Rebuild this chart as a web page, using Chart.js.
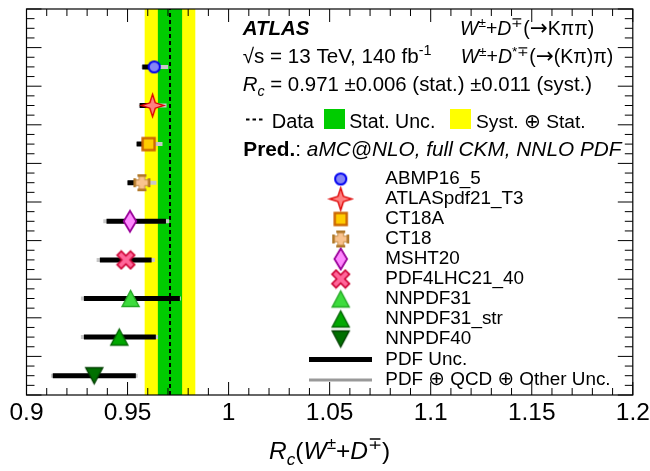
<!DOCTYPE html>
<html><head><meta charset="utf-8">
<script src="https://cdn.jsdelivr.net/npm/chart.js@4/dist/chart.umd.min.js"></script>
<style>html,body{margin:0;padding:0;background:#fff}canvas{display:block}</style>
</head><body>
<canvas id="c" width="650" height="471"></canvas>
<script>
// ---- data ----
const pdfSets = ['ABMP16_5', 'ATLASpdf21_T3', 'CT18A', 'CT18', 'MSHT20', 'PDF4LHC21_40', 'NNPDF31', 'NNPDF31_str', 'NNPDF40'];
const central = [0.9632, 0.9624, 0.9604, 0.9571, 0.9512, 0.9492, 0.9515, 0.9459, 0.9335];
const pdfLo   = [0.9573, 0.9560, 0.9545, 0.9500, 0.9396, 0.9363, 0.9284, 0.9284, 0.9130];
const pdfHi   = [0.9625, 0.9610, 0.9592, 0.9560, 0.9690, 0.9619, 0.9759, 0.9640, 0.9541];
const totLo   = [0.9569, 0.9556, 0.9543, 0.9497, 0.9380, 0.9347, 0.9269, 0.9269, 0.9121];
const totHi   = [0.9701, 0.9693, 0.9673, 0.9643, 0.9706, 0.9635, 0.9764, 0.9651, 0.9550];
const rowPos  = [8.5, 7.5, 6.5, 5.5, 4.5, 3.5, 2.5, 1.5, 0.5];
const dataRc = 0.971, statUnc = 0.006, systUnc = 0.011;
const xTickValues = [0.9, 0.95, 1.0, 1.05, 1.1, 1.15, 1.2];
const xTickLabels = ['0.9', '0.95', '1', '1.05', '1.1', '1.15', '1.2'];

const FAM = "'Liberation Sans', Arial, Helvetica, sans-serif";
const SYM = "'DejaVu Sans', sans-serif";

// ---- marker images ----
function mk(w, h, draw) {
  const c = document.createElement('canvas'); c.width = w; c.height = h;
  const g = c.getContext('2d'); g.translate(w / 2, h / 2); draw(g); return c;
}
function poly(g, pts) { g.beginPath(); pts.forEach((p, i) => i ? g.lineTo(p[0], p[1]) : g.moveTo(p[0], p[1])); g.closePath(); }
function plusPath(g, a, L) {
  poly(g, [[-a,-L],[a,-L],[a,-a],[L,-a],[L,a],[a,a],[a,L],[-a,L],[-a,a],[-L,a],[-L,-a],[-a,-a]]);
}
const markers = [
  mk(17, 17, g => { g.beginPath(); g.arc(0, 0, 5.6, 0, Math.PI * 2); g.fillStyle = '#8585f5'; g.fill(); g.lineWidth = 2; g.strokeStyle = '#0000f0'; g.stroke(); }),
  mk(27, 27, g => { const R = 11.2, r = 2.7; poly(g, [[0,-R],[r,-r],[R,0],[r,r],[0,R],[-r,r],[-R,0],[-r,-r]]); g.fillStyle = '#ff8080'; g.fill(); g.lineWidth = 1.4; g.strokeStyle = '#dd0000'; g.stroke(); }),
  mk(17, 17, g => { g.fillStyle = '#ffcc00'; g.fillRect(-6, -6, 12, 12); g.lineWidth = 2.4; g.strokeStyle = '#cc6600'; g.strokeRect(-6, -6, 12, 12); }),
  mk(21, 21, g => { plusPath(g, 2.8, 7.5); g.fillStyle = '#f9c38f'; g.fill(); g.lineWidth = 1; g.strokeStyle = '#c8904a'; g.stroke();
    g.fillStyle = '#b07828'; g.fillRect(-4.5, -8.5, 9, 2.6); g.fillRect(-4.5, 5.9, 9, 2.6); g.fillRect(-8.5, -4.5, 2.6, 9); g.fillRect(5.9, -4.5, 2.6, 9); }),
  mk(18, 26, g => { poly(g, [[0,-10.5],[6.3,0],[0,10.5],[-6.3,0]]); g.fillStyle = '#ff88ff'; g.fill(); g.lineWidth = 1.8; g.strokeStyle = '#990099'; g.stroke(); }),
  mk(21, 21, g => { g.rotate(Math.PI / 4); plusPath(g, 2.9, 9.5); g.fillStyle = '#ff6699'; g.fill(); g.lineWidth = 1.6; g.strokeStyle = '#cc0033'; g.stroke(); }),
  mk(21, 21, g => { poly(g, [[0,-8],[8.5,8],[-8.5,8]]); g.fillStyle = '#3ddc3d'; g.fill(); g.lineWidth = 1.4; g.strokeStyle = '#24a824'; g.stroke(); }),
  mk(21, 21, g => { poly(g, [[0,-8],[8.5,8],[-8.5,8]]); g.fillStyle = '#00a800'; g.fill(); g.lineWidth = 1.4; g.strokeStyle = '#006400'; g.stroke(); }),
  mk(21, 21, g => { poly(g, [[0,8],[8.5,-8],[-8.5,-8]]); g.fillStyle = '#007000'; g.fill(); g.lineWidth = 1.4; g.strokeStyle = '#004000'; g.stroke(); }),
];

// ---- datasets ----
const datasets = [];
datasets.push({ data: [{ x: dataRc, y: 0 }, { x: dataRc, y: 10 }], showLine: true, borderColor: '#000', borderWidth: 2, borderDash: [4, 3], pointRadius: 0, order: 5 });
pdfSets.forEach((name, i) => {
  datasets.push({ label: name + ' tot', data: [{ x: totLo[i], y: rowPos[i] }, { x: totHi[i], y: rowPos[i] }], showLine: true, borderColor: '#c8c8c8', borderWidth: 4, borderCapStyle: 'butt', pointRadius: 0, order: 4 });
  datasets.push({ label: name + ' pdf', data: [{ x: pdfLo[i], y: rowPos[i] }, { x: pdfHi[i], y: rowPos[i] }], showLine: true, borderColor: '#000', borderWidth: 5, borderCapStyle: 'butt', pointRadius: 0, order: 3 });
  datasets.push({ label: name, data: [{ x: central[i], y: rowPos[i] }], showLine: false, pointStyle: markers[i], pointRadius: 8, order: 1 });
});

function rich(ctx, x, y, segs, size, align) {
  const parts = segs.map(([t, st = '', pos = '', fam = FAM, scale = 1]) => {
    const s = (pos ? size * 0.7 : size) * scale;
    const font = (st.includes('i') ? 'italic ' : '') + (st.includes('b') ? 'bold ' : '') + s + 'px ' + fam;
    ctx.font = font;
    return { t, font, w: ctx.measureText(t).width, dy: pos === 'sup' ? -size * 0.4 : pos === 'sub' ? size * 0.25 : 0 };
  });
  const total = parts.reduce((a, p) => a + p.w, 0);
  let cx = align === 'right' ? x - total : align === 'center' ? x - total / 2 : x;
  ctx.textAlign = 'left'; ctx.textBaseline = 'alphabetic'; ctx.fillStyle = '#000';
  parts.forEach(p => { ctx.font = p.font; ctx.fillText(p.t, cx, y + p.dy); cx += p.w; });
}
const ARROW = ['→', '', '', SYM, 1.1];
const OPLUS = ['⊕', '', '', SYM, 1.05];

const decor = {
  id: 'decor',
  beforeDatasetsDraw(chart) {
    const { ctx, chartArea: a, scales: { x } } = chart;
    const tot = Math.sqrt(statUnc * statUnc + systUnc * systUnc);
    ctx.save();
    ctx.fillStyle = '#ffff00';
    ctx.fillRect(x.getPixelForValue(dataRc - tot), a.top, x.getPixelForValue(dataRc + tot) - x.getPixelForValue(dataRc - tot), a.bottom - a.top);
    ctx.fillStyle = '#00cc00';
    ctx.fillRect(x.getPixelForValue(dataRc - statUnc), a.top, x.getPixelForValue(dataRc + statUnc) - x.getPixelForValue(dataRc - statUnc), a.bottom - a.top);
    ctx.restore();
  },
  afterDraw(chart) {
    const { ctx, chartArea: a, scales: { x, y } } = chart;
    ctx.save();
    // frame
    ctx.strokeStyle = '#000'; ctx.lineWidth = 1.2;
    ctx.strokeRect(a.left, a.top, a.right - a.left, a.bottom - a.top);
    // ticks
    ctx.lineWidth = 1;
    ctx.beginPath();
    for (let k = 0; k <= 30; k++) {
      const v = 0.9 + k * 0.01, px = x.getPixelForValue(v), L = (k % 5 === 0) ? 13 : 7;
      ctx.moveTo(px, a.bottom); ctx.lineTo(px, a.bottom - L);
      ctx.moveTo(px, a.top); ctx.lineTo(px, a.top + L);
    }
    for (let k = 0; k <= 40; k++) {
      const py = y.getPixelForValue(k * 0.25), L = (k % 4 === 0) ? 15 : 8;
      ctx.moveTo(a.left, py); ctx.lineTo(a.left + L, py);
      ctx.moveTo(a.right, py); ctx.lineTo(a.right - L, py);
    }
    ctx.stroke();
    // tick labels
    ctx.fillStyle = '#000'; ctx.font = '24.5px ' + FAM; ctx.textAlign = 'center'; ctx.textBaseline = 'alphabetic';
    xTickValues.forEach((v, i) => ctx.fillText(xTickLabels[i], x.getPixelForValue(v), 419.5));
    // axis title
    rich(ctx, (a.left + a.right) / 2, 458.5, [['R', 'i'], ['c', 'i', 'sub'], ['('], ['W', 'i'], ['±', '', 'sup'], ['+'], ['D', 'i'], ['∓', '', 'sup'], [')']], 24.5, 'center');
    // header
    rich(ctx, 242.7, 35, [['ATLAS', 'bi']], 20.5);
    rich(ctx, 460, 35, [['W', 'i'], ['±', '', 'sup'], ['+'], ['D', 'i'], ['∓', '', 'sup'], ['('], ARROW, ['Kππ)']], 19.5);
    rich(ctx, 242.7, 63.3, [['√s = 13 TeV, 140 fb'], ['-1', '', 'sup']], 20.6);
    rich(ctx, 460.7, 63.3, [['W', 'i'], ['±', '', 'sup'], ['+'], ['D', 'i'], ['*∓', '', 'sup'], ['('], ARROW, ['(Kπ)π)']], 19.5);
    rich(ctx, 242.7, 90.7, [['R', 'i'], ['c', 'i', 'sub'], [' = 0.971 ±0.006 (stat.) ±0.011 (syst.)']], 20.4);
    // line 4 legend
    ctx.strokeStyle = '#000'; ctx.lineWidth = 2; ctx.setLineDash([3.5, 3]);
    ctx.beginPath(); ctx.moveTo(246, 119.5); ctx.lineTo(264, 119.5); ctx.stroke(); ctx.setLineDash([]);
    rich(ctx, 271.7, 127.7, [['Data']], 20);
    ctx.fillStyle = '#00cc00'; ctx.fillRect(324, 109, 21, 20);
    rich(ctx, 349.3, 127.7, [['Stat. Unc.']], 19.6);
    ctx.fillStyle = '#ffff00'; ctx.fillRect(450, 109, 21, 20);
    rich(ctx, 476, 127.7, [['Syst. '], OPLUS, [' Stat.']], 19.2);
    rich(ctx, 243.3, 156, [['Pred.', 'b'], [': '], ['aMC@NLO, full CKM, NNLO PDF', 'i']], 20.8);
    // PDF legend
    pdfSets.forEach((name, i) => {
      const ry = 179 + 20 * i;
      const m = markers[i];
      ctx.drawImage(m, 340.7 - m.width / 2, ry - m.height / 2);
      rich(ctx, 385.3, ry + 4.5, [[name]], 18.9);
    });
    ctx.fillStyle = '#000'; ctx.fillRect(309, 357, 63, 5);
    rich(ctx, 385.3, 364.5, [['PDF Unc.']], 18.9);
    ctx.fillStyle = '#999999'; ctx.fillRect(309, 378.5, 63, 3);
    rich(ctx, 385.3, 384.5, [['PDF '], OPLUS, [' QCD '], OPLUS, [' Other Unc.']], 18.9);
    ctx.restore();
  }
};

new Chart(document.getElementById('c'), {
  type: 'scatter',
  data: { datasets },
  options: {
    responsive: false, animation: false, devicePixelRatio: 1,
    layout: { padding: { left: 26.5, right: 17.2, top: 6, bottom: 76 } },
    scales: {
      x: { type: 'linear', min: 0.9, max: 1.2, display: false },
      y: { type: 'linear', min: 0, max: 10, display: false }
    },
    plugins: { legend: { display: false }, tooltip: { enabled: false } }
  },
  plugins: [decor]
});
</script>
</body></html>
